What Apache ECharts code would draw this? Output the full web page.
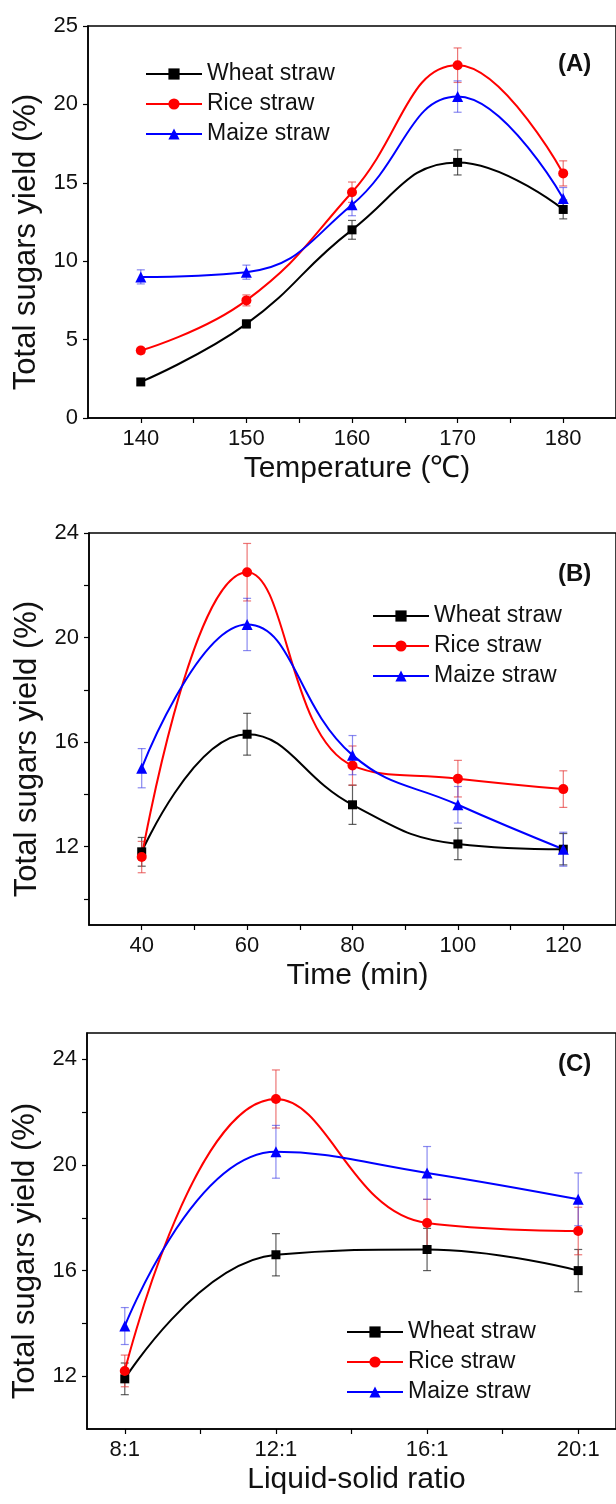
<!DOCTYPE html>
<html>
<head>
<meta charset="utf-8">
<script src="https://cdn.jsdelivr.net/npm/echarts@6/dist/echarts.min.js"></script>
<style>html,body{margin:0;padding:0;background:#fff;}#c{width:616px;height:1504px;}</style>
</head>
<body>
<div id="c"></div>
<script>
// ---- Data ----
const seriesNames = ['Wheat straw', 'Rice straw', 'Maize straw'];

const xA = [140, 150, 160, 170, 180];
const wheatA = [2.3, 6.0, 12.0, 16.3, 13.3];
const wheatAErr = [0.2, 0.25, 0.6, 0.8, 0.6];
const riceA = [4.3, 7.5, 14.4, 22.5, 15.6];
const riceAErr = [0.2, 0.35, 0.65, 1.1, 0.8];
const maizeA = [9.0, 9.3, 13.6, 20.5, 14.0];
const maizeAErr = [0.45, 0.45, 0.7, 1.0, 0.7];

const xB = [40, 60, 80, 100, 120];
const wheatB = [11.8, 16.3, 13.6, 12.1, 11.9];
const wheatBErr = [0.55, 0.8, 0.75, 0.6, 0.6];
const riceB = [11.6, 22.5, 15.1, 14.6, 14.2];
const riceBErr = [0.6, 1.1, 0.75, 0.7, 0.7];
const maizeB = [15.0, 20.5, 15.5, 13.6, 11.9];
const maizeBErr = [0.75, 1.0, 0.75, 0.7, 0.65];

const xC = [8, 12, 16, 20];
const wheatC = [11.9, 16.6, 16.8, 16.0];
const wheatCErr = [0.6, 0.8, 0.8, 0.8];
const riceC = [12.2, 22.5, 17.8, 17.5];
const riceCErr = [0.6, 1.1, 0.9, 0.9];
const maizeC = [13.9, 20.5, 19.7, 18.7];
const maizeCErr = [0.7, 1.0, 1.0, 1.0];

// tick labels / tick positions
const xLabelsA = [140, 150, 160, 170, 180];
const xTicksA = [140, 145, 150, 155, 160, 165, 170, 175, 180];
const yLabelsA = [0, 5, 10, 15, 20, 25];
const xLabelsB = [40, 60, 80, 100, 120];
const xTicksB = [40, 50, 60, 70, 80, 90, 100, 110, 120];
const yLabelsB = [12, 16, 20, 24];
const yTicksB = [10, 12, 14, 16, 18, 20, 22, 24];
const xLabelsC = [8, 12, 16, 20];
const xTicksC = [8, 10, 12, 14, 16, 18, 20];
const yLabelsC = [12, 16, 20, 24];
const yTicksC = [12, 14, 16, 18, 20, 22, 24];

// ---- Styles ----
const FONT = 'Liberation Sans, Arial, sans-serif';
const colors = ['#000000', '#ff0000', '#0000ff'];
const errColors = ['rgba(40,40,40,0.75)', 'rgba(230,60,60,0.7)', 'rgba(60,60,230,0.6)'];
const symbols = ['rect', 'circle', 'triangle'];
const symbolSizes = [9, 10, 11];

const chart = echarts.init(document.getElementById('c'), null, {renderer: 'canvas'});

const grids = [
  {left: 88, top: 26, width: 532, height: 392},
  {left: 89, top: 533, width: 531, height: 392},
  {left: 87, top: 1033, width: 538, height: 396}
];

function xAxisDef(gi, min, max, labels, ticks, name, fmt) {
  return {
    type: 'value', gridIndex: gi, min: min, max: max,
    name: name, nameLocation: 'middle', nameGap: 36,
    nameTextStyle: {fontFamily: FONT, fontSize: 30, color: '#111', padding: [0, 0, 0, 10]},
    axisLine: {show: true, lineStyle: {color: '#000', width: 1.5}},
    axisTick: {show: true, customValues: ticks, length: 5, lineStyle: {color: '#000', width: 1.2}},
    axisLabel: {show: true, customValues: labels, margin: 10, fontFamily: FONT, fontSize: 22, color: '#111',
      formatter: fmt || (v => String(v))},
    splitLine: {show: false}
  };
}
function yAxisDef(gi, min, max, labels, ticks) {
  return {
    type: 'value', gridIndex: gi, min: min, max: max,
    name: 'Total sugars yield (%)', nameLocation: 'middle', nameGap: 46,
    nameTextStyle: {fontFamily: FONT, fontSize: 31, color: '#111', padding: [0, 40, 0, 0]},
    axisLine: {show: true, lineStyle: {color: '#000', width: 1.5}},
    axisTick: {show: true, customValues: ticks, length: 5, lineStyle: {color: '#000', width: 1.2}},
    axisLabel: {show: true, customValues: labels, margin: 10, fontFamily: FONT, fontSize: 22, color: '#111'},
    splitLine: {show: false}
  };
}

function errItem(params, api) {
  const x = api.value(0), lo = api.value(1), hi = api.value(2);
  const p1 = api.coord([x, hi]), p2 = api.coord([x, lo]);
  const w = 4;
  const st = {stroke: api.visual('color'), lineWidth: 1.2};
  return {type: 'group', children: [
    {type: 'line', shape: {x1: p1[0], y1: p1[1], x2: p2[0], y2: p2[1]}, style: st},
    {type: 'line', shape: {x1: p1[0] - w, y1: p1[1], x2: p1[0] + w, y2: p1[1]}, style: st},
    {type: 'line', shape: {x1: p2[0] - w, y1: p2[1], x2: p2[0] + w, y2: p2[1]}, style: st}
  ]};
}

const panels = [
  {x: xA, vals: [wheatA, riceA, maizeA], errs: [wheatAErr, riceAErr, maizeAErr]},
  {x: xB, vals: [wheatB, riceB, maizeB], errs: [wheatBErr, riceBErr, maizeBErr]},
  {x: xC, vals: [wheatC, riceC, maizeC], errs: [wheatCErr, riceCErr, maizeCErr]}
];

const series = [];
panels.forEach((p, gi) => {
  for (let s = 0; s < 3; s++) {
    series.push({
      type: 'custom', name: 'err' + gi + '_' + s,
      xAxisIndex: gi, yAxisIndex: gi,
      renderItem: errItem,
      itemStyle: {color: errColors[s]},
      encode: {x: 0, y: [1, 2]},
      data: p.x.map((xv, i) => [xv, p.vals[s][i] - p.errs[s][i], p.vals[s][i] + p.errs[s][i]]),
      z: 1, silent: true
    });
  }
  for (let s = 0; s < 3; s++) {
    series.push({
      type: 'line', name: seriesNames[s],
      xAxisIndex: gi, yAxisIndex: gi,
      data: p.x.map((xv, i) => [xv, p.vals[s][i]]),
      smooth: 0.45,
      symbol: symbols[s], symbolSize: symbolSizes[s],
      showAllSymbol: true,
      lineStyle: {color: colors[s], width: 2},
      itemStyle: {color: colors[s]},
      z: 3, animation: false
    });
  }
});

function legendDef(left, top) {
  return {
    data: seriesNames, orient: 'vertical', left: left, top: top,
    itemWidth: 56, itemHeight: 14, itemGap: 6, selectedMode: false,
    textStyle: {fontFamily: FONT, fontSize: 23, color: '#111', lineHeight: 24}
  };
}

const option = {
  backgroundColor: '#fff',
  animation: false,
  title: [
    {text: '(A)', left: 553, top: 47, textStyle: {fontFamily: FONT, fontSize: 24, fontWeight: 'bold', color: '#111'}},
    {text: '(B)', left: 553, top: 557, textStyle: {fontFamily: FONT, fontSize: 24, fontWeight: 'bold', color: '#111'}},
    {text: '(C)', left: 553, top: 1047, textStyle: {fontFamily: FONT, fontSize: 24, fontWeight: 'bold', color: '#111'}}
  ],
  legend: [legendDef(140, 57), legendDef(367, 599), legendDef(341, 1315)],
  grid: grids.map(g => Object.assign({show: true, borderColor: '#000', borderWidth: 1.5, backgroundColor: 'transparent'}, g)),
  xAxis: [
    xAxisDef(0, 135, 185, xLabelsA, xTicksA, 'Temperature (\u2103)'),
    xAxisDef(1, 30, 130, xLabelsB, xTicksB, 'Time (min)'),
    xAxisDef(2, 7, 21, xLabelsC, xTicksC, 'Liquid-solid ratio', v => v + ':1')
  ],
  yAxis: [
    yAxisDef(0, 0, 25, yLabelsA, yLabelsA),
    yAxisDef(1, 9, 24, yLabelsB, yTicksB),
    yAxisDef(2, 10, 25, yLabelsC, yTicksC)
  ],
  series: series
};
chart.setOption(option);
</script>
</body>
</html>
